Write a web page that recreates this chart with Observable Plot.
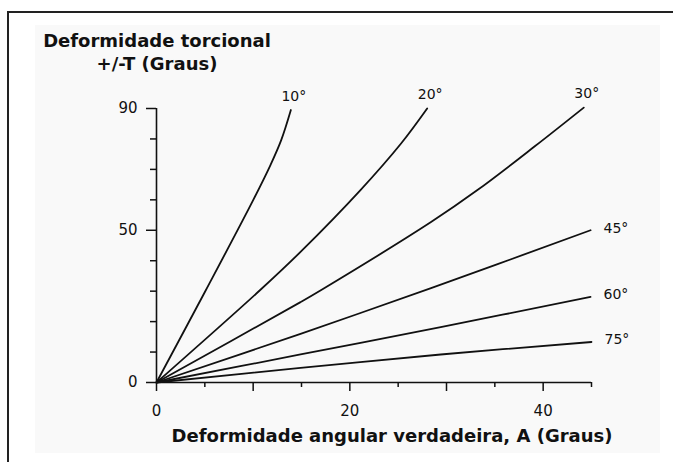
<!DOCTYPE html>
<html>
<head>
<meta charset="utf-8">
<script src="https://cdn.jsdelivr.net/npm/d3@7"></script>
<script src="https://cdn.jsdelivr.net/npm/@observablehq/plot@0.6"></script>
<style>
  html, body { margin: 0; padding: 0; background: #fff; overflow: hidden; }
  #wrap { position: relative; width: 673px; height: 462px; overflow: hidden; }
  #frame { position: absolute; left: 7px; top: 11px; width: 720px; height: 520px;
           border-top: 2px solid #222; border-left: 2px solid #222; }
  #paper { position: absolute; left: 35px; top: 25px; width: 625px; height: 428px; background: #f9f9f9; }
  #title { position: relative; width: 314px; height: 80px; box-sizing: border-box; padding-top: 29px;
           text-align: center; font-family: "DejaVu Sans", sans-serif; font-weight: bold;
           font-size: 18px; line-height: 23px; color: #111; }
  #chart { position: relative; }
</style>
</head>
<body>
<div id="wrap">
  <div id="frame"></div>
  <div id="paper"></div>
  <div id="title">Deformidade torcional<br>+/-T (Graus)</div>
  <div id="chart"></div>
</div>
<script>
// Labels
const titleLines = ["Deformidade torcional", "+/-T (Graus)"];
const xTitle = "Deformidade angular verdadeira, A (Graus)";
const angles = ["10°", "20°", "30°", "45°", "60°", "75°"];
const topLabelled = ["10°", "20°", "30°"];

// Series values: A (x) and T (y) for each plane angle
const x10 = [0, 5.1, 10.0, 11.8, 12.9, 13.9];
const y10 = [0, 30.3, 59.9, 71.5, 79.6, 89.5];
const x20 = [0, 10.7, 14.9, 21.1, 25.3, 28.0];
const y20 = [0, 30.3, 42.9, 63.2, 78.5, 90];
const x30 = [0, 14.9, 17.0, 28.4, 33.2, 39.1, 44.2];
const y30 = [0, 26.4, 30.3, 52.7, 63.2, 77.5, 90.3];
const x45 = [0, 14.9, 28.4, 44.9];
const y45 = [0, 16.0, 31.0, 50.0];
const x60 = [0, 14.9, 29.4, 44.9];
const y60 = [0, 9.2, 18.2, 28.1];
const x75 = [0, 14.9, 29.4, 45.0];
const y75 = [0, 4.8, 9.2, 13.3];

// Tick values
const xMajor = [0, 10, 20, 30, 40];
const xMinor = [5, 15, 25, 35, 45];
const xLabelled = [0, 20, 40];
const yMajor = [0, 50, 90];
const yMinor = [10, 20, 30, 40, 60, 70, 80];

const xs = [x10, x20, x30, x45, x60, x75];
const ys = [y10, y20, y30, y45, y60, y75];
const rows = angles.flatMap((a, i) => xs[i].map((x, j) => ({angle: a, x, y: ys[i][j]})));
const ends = angles.map((a, i) => ({angle: a, x: xs[i][xs[i].length - 1], y: ys[i][ys[i].length - 1]}));

const ink = "#111";
const chart = Plot.plot({
  width: 673,
  height: 382,
  marginLeft: 156,
  marginRight: 82,
  marginTop: 28,
  marginBottom: 80,
  x: {domain: [0, 45]},
  y: {domain: [0, 90]},
  style: {background: "transparent", fontFamily: "DejaVu Sans, sans-serif", fontSize: "15px", color: ink, overflow: "visible"},
  marks: [
    Plot.ruleY([0], {stroke: ink, strokeWidth: 1.6}),
    Plot.ruleX([0], {stroke: ink, strokeWidth: 1.6}),
    Plot.axisX({ticks: xMinor, tickSize: 5, tickFormat: () => "", strokeWidth: 1.5, label: null}),
    Plot.axisX({ticks: xMajor, tickSize: 9, tickPadding: 14, strokeWidth: 1.5, label: null,
                tickFormat: d => xLabelled.includes(d) ? String(d) : ""}),
    Plot.axisY({ticks: yMinor, tickSize: 6, tickFormat: () => "", strokeWidth: 1.5, label: null}),
    Plot.axisY({ticks: yMajor, tickSize: 10, tickPadding: 9, strokeWidth: 1.5, label: null}),
    Plot.line(rows, {x: "x", y: "y", z: "angle", curve: "catmull-rom", stroke: ink, strokeWidth: 1.8}),
    Plot.text(ends.filter(d => topLabelled.includes(d.angle)),
              {x: "x", y: "y", text: "angle", dx: 3, dy: -14, fontSize: 14, fill: ink}),
    Plot.text(ends.filter(d => !topLabelled.includes(d.angle)),
              {x: "x", y: "y", text: "angle", dx: 13, dy: -2, textAnchor: "start", fontSize: 14, fill: ink}),
    Plot.text([xTitle], {frameAnchor: "bottom", text: d => d, dx: 18, dy: 59, lineAnchor: "bottom",
                         fontSize: 18, fontWeight: "bold", fill: ink})
  ]
});
document.getElementById("chart").appendChild(chart);
</script>
</body>
</html>
